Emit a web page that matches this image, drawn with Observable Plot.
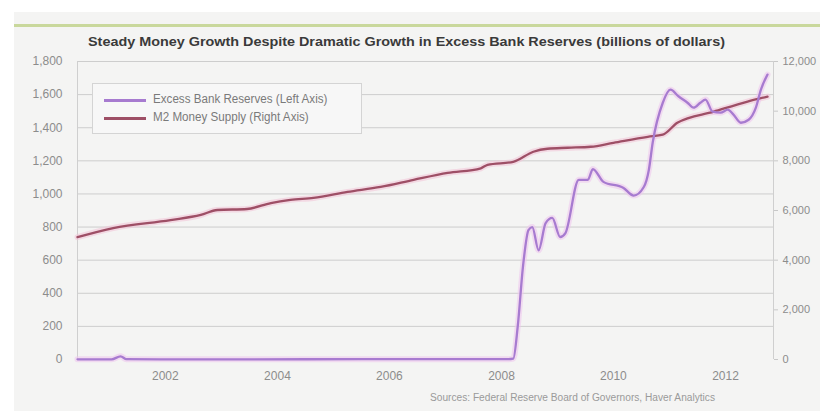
<!DOCTYPE html>
<html><head><meta charset="utf-8">
<script src="https://cdn.jsdelivr.net/npm/d3@7"></script>
<script src="https://cdn.jsdelivr.net/npm/@observablehq/plot@0.6"></script>
<style>
body{margin:0;background:#fff;width:820px;height:411px;overflow:hidden;position:relative;font-family:"Liberation Sans",Arial,sans-serif;}
#paper{position:absolute;left:14px;top:12px;width:806px;height:399px;background:#f4f4f3;}
#rule{position:absolute;left:14px;top:24px;width:806px;height:3px;background:#c9d89c;}
#title{position:absolute;left:88px;top:35px;font-weight:bold;font-size:12.5px;color:#3a3a3a;white-space:nowrap;transform-origin:0 0;}
#chart{position:absolute;left:0;top:48px;}
#legend{position:absolute;left:92px;top:83px;width:268px;height:49px;border:1px solid #d4d4d4;background:#f7f7f7;}
.item{position:absolute;left:11px;height:15px;font-size:12.5px;color:#7a7a7a;}
.item .sw{position:absolute;left:0;top:7px;width:42px;height:3px;}
.item span{position:absolute;left:49px;top:0;white-space:nowrap;transform-origin:0 0;transform:scaleX(0.93);}
#source{position:absolute;left:430px;top:392px;font-size:10px;color:#9a9a9a;white-space:nowrap;transform-origin:0 0;}
.right-axis text{font-size:11px;}
</style></head>
<body>
<div id="paper"></div>
<div id="rule"></div>
<div id="title">Steady Money Growth Despite Dramatic Growth in Excess Bank Reserves (billions of dollars)</div>
<div id="chart"></div>
<div id="legend">
  <div class="item" style="top:8px"><div class="sw" style="background:#a77bd0"></div><span>Excess Bank Reserves (Left Axis)</span></div>
  <div class="item" style="top:26px"><div class="sw" style="background:#9e4f66"></div><span>M2 Money Supply (Right Axis)</span></div>
</div>
<div id="source">Sources: Federal Reserve Board of Governors, Haver Analytics</div>
<script>
// Excess bank reserves, billions of dollars (left axis)
const reserveDates = ["2000-12-05","2001-07-15","2001-09-12","2001-10-20","2002-06-01","2004-01-01","2006-01-01","2008-08-15","2008-09-16","2008-10-15","2008-11-18","2008-12-24","2009-01-18","2009-02-28","2009-04-15","2009-05-28","2009-07-19","2009-08-22","2009-11-17","2010-01-15","2010-02-17","2010-04-27","2010-09-05","2010-11-10","2011-01-15","2011-02-17","2011-03-14","2011-05-19","2011-07-08","2011-08-29","2011-10-27","2011-12-06","2012-01-19","2012-02-21","2012-04-08","2012-05-30","2012-07-16","2012-08-22","2012-10-09","2012-11-29","2013-01-15","2013-02-17","2013-04-01"];
const reserveValues = [1,1,19,2,1,1,2,2,5,200,560,782,800,660,824,855,740,764,1085,1085,1150,1073,1036,990,1042,1145,1309,1551,1630,1590,1551,1521,1551,1570,1497,1491,1509,1479,1430,1448,1521,1630,1721];
// M2 money supply, billions of dollars (right axis)
const m2Dates = ["2000-12-05","2001-07-26","2002-08-03","2003-02-17","2003-06-05","2003-12-16","2004-05-19","2004-09-24","2005-02-21","2005-10-01","2006-05-05","2006-12-06","2007-07-16","2008-02-17","2008-04-01","2008-09-16","2009-01-25","2009-04-27","2009-09-06","2010-02-03","2010-07-01","2011-02-10","2011-05-19","2011-08-22","2012-04-16","2012-11-22","2013-04-01"];
const m2Values = [4927,5293,5613,5820,6020,6060,6300,6427,6507,6747,6947,7233,7513,7700,7840,7960,8367,8487,8527,8567,8727,8967,9053,9533,9980,10387,10587];
// Axes
const leftTicks = [0,200,400,600,800,1000,1200,1400,1600,1800];
const rightTicks = [0,2000,4000,6000,8000,10000,12000];
const yearLabels = [2002,2004,2006,2008,2010,2012];
const xDomain = ["2000-12-05","2013-05-10"];

const ratio = 1800/12000;
const reserves = reserveDates.map((d,i)=>({date:new Date(d), value:reserveValues[i]}));
const m2 = m2Dates.map((d,i)=>({date:new Date(d), value:m2Values[i]*ratio}));
const fmt = d3.format(",");

const chart = Plot.plot({
  width:820, height:345, marginTop:13, marginBottom:34, marginLeft:77, marginRight:47,
  style:{background:"transparent", fontFamily:"'Liberation Sans',Arial,sans-serif", fontSize:"12px", color:"#8c8c8c"},
  x:{type:"utc", domain:xDomain.map(d=>new Date(d))},
  y:{domain:[0,1800]},
  marks:[
    Plot.gridY(leftTicks.filter(d=>d>0), {stroke:"#cdcdcd", strokeOpacity:1}),
    Plot.ruleX(xDomain.map(d=>new Date(d)), {stroke:"#cfcfcf"}),
    Plot.axisY(leftTicks, {anchor:"left", label:null, tickSize:0, tickPadding:15, tickFormat:fmt, fill:"#8c8c8c"}),
    Plot.axisY(rightTicks.map(d=>d*ratio), {anchor:"right", label:null, tickSize:4, tickPadding:5, stroke:"#c8c8c8", fill:"#8c8c8c", className:"right-axis", tickFormat:d=>fmt(Math.round(d/ratio))}),
    Plot.axisX(yearLabels.map(y=>new Date(Date.UTC(y,6,1))), {label:null, tickSize:0, tickPadding:12, tickFormat:d3.utcFormat("%Y"), fill:"#8c8c8c"}),
    Plot.lineY(m2, {x:"date", y:"value", stroke:"#f2c6d8", strokeWidth:6, strokeOpacity:0.6, curve:"monotone-x"}),
    Plot.lineY(reserves, {x:"date", y:"value", stroke:"#efc8ee", strokeWidth:6, strokeOpacity:0.6, curve:"monotone-x"}),
    Plot.lineY(m2, {x:"date", y:"value", stroke:"#9e4f66", strokeWidth:2.3, curve:"monotone-x"}),
    Plot.lineY(reserves, {x:"date", y:"value", stroke:"#a77bd0", strokeWidth:2.3, curve:"monotone-x"})
  ]
});
document.getElementById("chart").appendChild(chart);
const t = document.getElementById("title");
t.style.transform = `scaleX(${637/t.getBoundingClientRect().width})`;
const s = document.getElementById("source");
s.style.transform = `scaleX(${285/s.getBoundingClientRect().width})`;
</script>
</body></html>
